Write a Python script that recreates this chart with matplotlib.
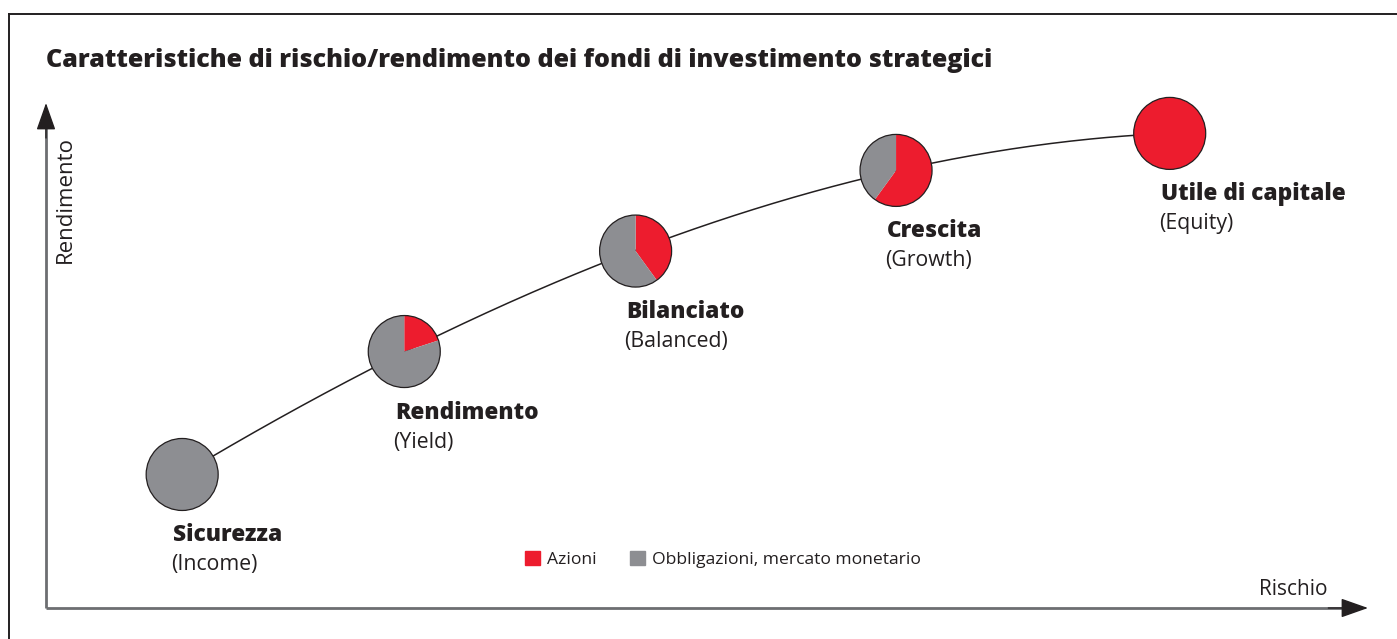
from matplotlib import pyplot as plt
from matplotlib.lines import Line2D
from matplotlib.patches import Patch
import numpy as np

plt.rcParams['font.family'] = ['Open Sans', 'DejaVu Sans']

# dati: posizione rischio/rendimento dei fondi (unita' arbitrarie) e quota azioni in %
fondi = ['Sicurezza', 'Rendimento', 'Bilanciato', 'Crescita', 'Utile di capitale']
fondi_en = ['(Income)', '(Yield)', '(Balanced)', '(Growth)', '(Equity)']
rischio = [1.03, 2.71, 4.46, 6.43, 8.50]
rendimento = [1.01, 1.94, 2.70, 3.31, 3.59]
azioni = [0, 20, 40, 60, 100]
obbligazioni = [100 - a for a in azioni]

ROSSO = '#ED1C2E'
GRIGIO = '#8D8E92'
NERO = '#231F20'

S = 132.2  # pixel per unita'
fig = plt.figure(figsize=(13.97, 6.39), dpi=100)
ax = fig.add_axes([0, 0, 1, 1])

# curva rischio/rendimento
coef = np.polyfit(rischio, rendimento, 3)
xs = np.linspace(rischio[0], rischio[-1], 300)
ax.plot(xs, np.polyval(coef, xs), color=NERO, lw=1.1, zorder=1)

# torte
for i in range(len(fondi)):
    ax.pie([azioni[i], obbligazioni[i]], colors=[ROSSO, GRIGIO],
           center=(rischio[i], rendimento[i]), radius=36 / S,
           startangle=90, counterclock=False, frame=True,
           wedgeprops=dict(edgecolor='none'))
    ax.add_patch(plt.Circle((rischio[i], rendimento[i]), 36 / S, fill=False,
                            edgecolor=NERO, lw=0.9, zorder=5))
    ax.annotate(fondi[i], (rischio[i], rendimento[i]), xytext=(-9, -67),
                textcoords='offset pixels', ha='left', va='baseline',
                fontsize=16.3, fontweight='heavy', color=NERO)
    ax.annotate(fondi_en[i], (rischio[i], rendimento[i]), xytext=(-11, -96),
                textcoords='offset pixels', ha='left', va='baseline',
                fontsize=15.3, color=NERO)

ax.set_xlim(-46 / S, 1351 / S)
ax.set_ylim(-31 / S, 608 / S)
ax.set_aspect('equal', adjustable='box')
ax.axis('off')

# assi: linea grigia + punta nera
ax.plot([0, 9.9], [0, 0], color='#6D6E71', lw=2, solid_capstyle='butt', zorder=2)
ax.plot([0, 0], [0, 495 / S], color='#6D6E71', lw=2, solid_capstyle='butt', zorder=2)
punta = dict(arrowstyle='-|>,head_length=0.85,head_width=0.3', color=NERO,
             lw=1, mutation_scale=20, shrinkA=0, shrinkB=0)
ax.annotate('', xy=(10.0, 0), xytext=(9.7, 0), arrowprops=punta)
ax.annotate('', xy=(0, 505 / S), xytext=(0, 470 / S), arrowprops=punta)
ax.text(1259 / S - 46 / S, 13 / S, 'Rischio', ha='left', va='baseline',
        fontsize=15, color=NERO)
ax.text(19.5 / S, 408 / S, 'Rendimento', rotation=90, ha='center', va='center',
        fontsize=16, color=NERO)

# titolo e cornice
fig.text(46 / 1397, 1 - 67 / 639,
         'Caratteristiche di rischio/rendimento dei fondi di investimento strategici',
         ha='left', va='baseline', fontsize=18.1, fontweight='heavy', color=NERO)
fig.add_artist(Line2D([9 / 1397, 1.01], [1 - 13.5 / 639] * 2, color=NERO, lw=1.4))
fig.add_artist(Line2D([9 / 1397] * 2, [-0.01, 1 - 13.5 / 639], color=NERO, lw=1.4))

# legenda
maniglie = [Patch(color=ROSSO, label='Azioni'),
            Patch(color=GRIGIO, label='Obbligazioni, mercato monetario')]
fig.legend(handles=maniglie, loc='upper left', bbox_to_anchor=(525 / 1397, 1 - 551 / 639),
           ncol=2, frameon=False, fontsize=12.6, handlelength=0.85, handleheight=0.85,
           handletextpad=0.4, columnspacing=1.9, borderpad=0, borderaxespad=0,
           labelcolor=NERO)

fig.savefig('out.png', dpi=100)
